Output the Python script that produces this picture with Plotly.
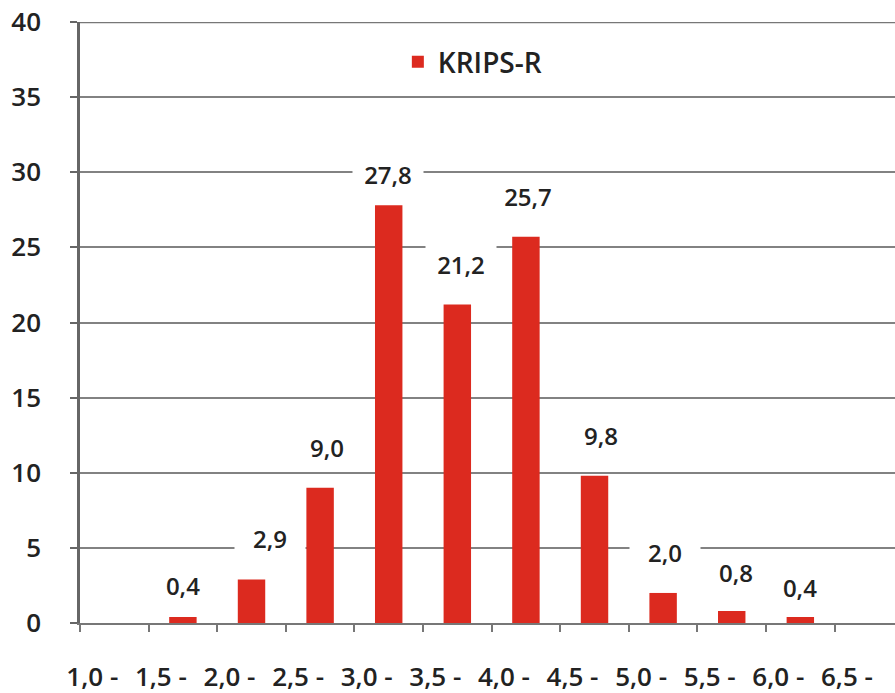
import plotly.graph_objects as go

# Score intervals (lower bounds shown on the axis) and share of respondents, %
categories = ["1,0 -", "1,5 -", "2,0 -", "2,5 -", "3,0 -", "3,5 -",
              "4,0 -", "4,5 -", "5,0 -", "5,5 -", "6,0 -", "6,5 -"]
krips_r = [None, 0.4, 2.9, 9.0, 27.8, 21.2, 25.7, 9.8, 2.0, 0.8, 0.4, None]

# Hand-placed label offsets (pixels) relative to each bar top
label_dx = [0, 0, 18, 7, -1, 4, 2, 6, 2, 4, 0, 0]
label_dy = [0, 31, 41, 40, 31, 40, 40, 40, 40, 38, 29, 0]

RED = "#DC2A1F"
GRID = "#828282"
TEXT = "#222222"
FONT = "Open Sans"
WEIGHT = 600

fig = go.Figure()
fig.add_trace(go.Bar(
    x=categories,
    y=krips_r,
    name="KRIPS-R",
    marker=dict(color=RED, line=dict(width=0)),
))

# Value labels on white boxes, which interrupt the gridlines behind them
for i, (cat, v) in enumerate(zip(categories, krips_r)):
    if v is None:
        continue
    fig.add_annotation(
        x=cat, y=v, xref="x", yref="y",
        text=f"{v:.1f}".replace(".", ","),
        showarrow=False,
        xshift=label_dx[i], yshift=label_dy[i],
        yanchor="middle", xanchor="center",
        width=70, height=45, borderpad=0,
        bgcolor="white",
        font=dict(family=FONT, size=24, color=TEXT, weight=WEIGHT),
    )

# Heavier line along the top of the value range
fig.add_shape(type="line", xref="paper", yref="y", x0=0, x1=1, y0=40, y1=40,
              line=dict(color="#777777", width=2.5), layer="below")

fig.update_layout(
    width=895, height=693,
    margin=dict(l=80, r=0, t=22, b=70),
    paper_bgcolor="white", plot_bgcolor="white",
    bargap=0.6,
    showlegend=True,
    legend=dict(x=0.39, y=0.975, xanchor="left", yanchor="top",
                bgcolor="rgba(0,0,0,0)",
                font=dict(family=FONT, size=28, color=TEXT, weight=WEIGHT)),
    xaxis=dict(
        type="category",
        range=[-0.5, 11.38],
        showgrid=False,
        showline=True, linecolor="#777777", linewidth=2,
        ticks="outside", tickson="boundaries", ticklen=7,
        tickcolor="#777777", tickwidth=1.5,
        ticklabelshift=-22, ticklabelstandoff=30,
        tickfont=dict(family=FONT, size=26, color=TEXT, weight=WEIGHT),
        zeroline=False,
    ),
    yaxis=dict(
        range=[0, 40],
        dtick=5,
        showgrid=True, gridcolor=GRID, gridwidth=2,
        showline=True, linecolor="#666666", linewidth=2.5,
        ticks="outside", ticklen=7, tickcolor="#666666", tickwidth=1.5,
        ticklabelstandoff=24,
        tickfont=dict(family=FONT, size=26, color=TEXT, weight=WEIGHT),
        zeroline=False,
    ),
)

fig.write_html("out.html")
